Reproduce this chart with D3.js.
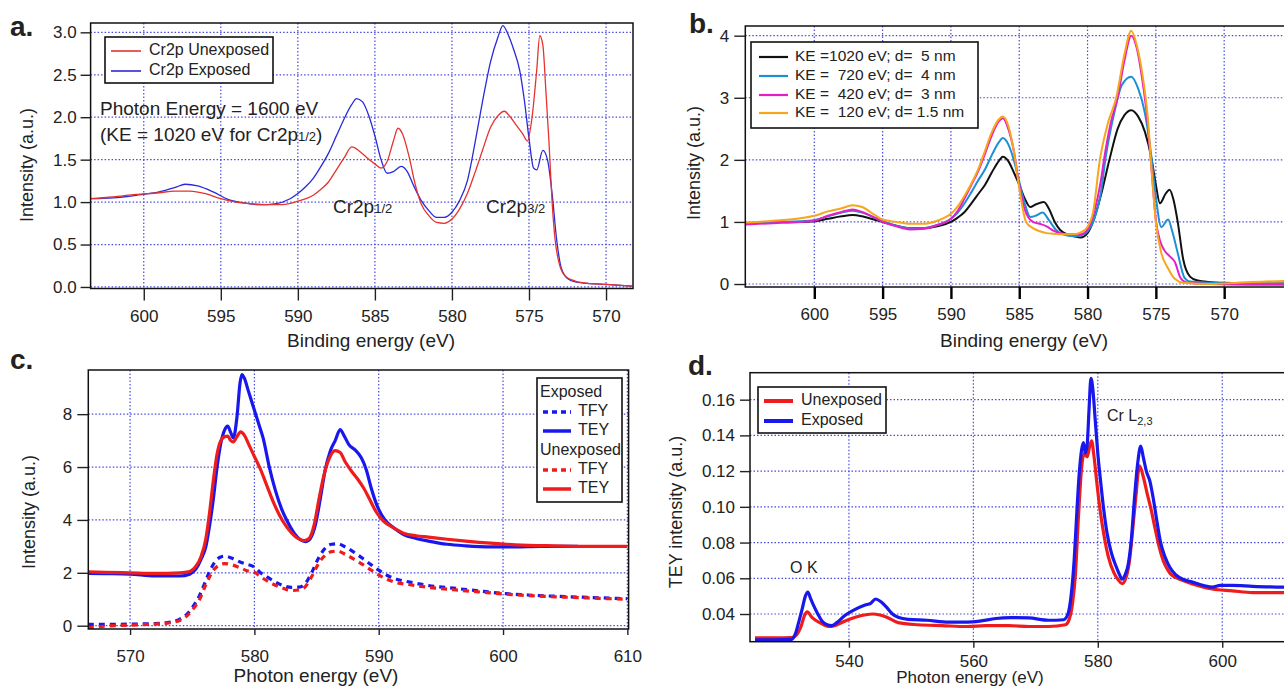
<!DOCTYPE html>
<html>
<head>
<meta charset="utf-8">
<script src="https://cdn.jsdelivr.net/npm/d3@7"></script>
<style>
  body { margin: 0; background: #fff; }
  svg text { font-family: "Liberation Sans", Arial, sans-serif; fill: #222; }
</style>
</head>
<body>
<svg id="fig" width="1284" height="691"></svg>
<script>
// ---- panel a: XPS Cr2p, binding energy (eV) vs intensity ----
const aTicksX = [600, 595, 590, 585, 580, 575, 570];
const aTicksY = [0, 0.5, 1, 1.5, 2, 2.5, 3];
const aExposed = [[603.5,1.04],[602,1.05],[600.5,1.08],[599,1.12],[598,1.17],[597.3,1.21],[596.5,1.19],[595.5,1.12],[594.5,1.03],[593.5,0.99],[592.5,0.97],[591.5,0.98],[590.5,1.04],[590,1.10],[589.5,1.18],[589,1.28],[588.5,1.42],[588,1.58],[587.5,1.78],[587,1.98],[586.5,2.15],[586.2,2.22],[585.8,2.18],[585.4,2.02],[585,1.78],[584.6,1.50],[584.2,1.34],[583.8,1.36],[583.3,1.42],[582.9,1.36],[582.5,1.20],[582,1.02],[581.5,0.90],[581,0.82],[580.5,0.82],[580,0.88],[579.5,1.02],[579,1.25],[578.5,1.70],[578,2.20],[577.5,2.65],[577,2.95],[576.7,3.08],[576.3,2.95],[576,2.80],[575.6,2.55],[575.3,2.20],[575,1.75],[574.7,1.40],[574.5,1.38],[574.1,1.61],[573.8,1.50],[573.5,1.10],[573.2,0.55],[572.9,0.22],[572.5,0.10],[572,0.06],[571,0.04],[570,0.03],[568.3,0.01]];
const aUnexposed = [[603.5,1.04],[602,1.06],[600.5,1.09],[599,1.11],[598,1.13],[597,1.13],[596,1.10],[595,1.04],[594,1.00],[593,0.98],[592,0.97],[591,0.97],[590,1.01],[589,1.08],[588.5,1.15],[588,1.24],[587.5,1.38],[587,1.52],[586.5,1.65],[586,1.60],[585.5,1.52],[585,1.45],[584.6,1.40],[584.2,1.48],[583.8,1.72],[583.5,1.87],[583.2,1.80],[582.8,1.55],[582.4,1.22],[582,0.98],[581.5,0.84],[581,0.76],[580.5,0.75],[580,0.80],[579.5,0.92],[579,1.10],[578.5,1.35],[578,1.62],[577.5,1.88],[577,2.02],[576.6,2.07],[576.2,2.00],[575.8,1.90],[575.4,1.80],[575.1,1.72],[574.8,2.00],[574.5,2.55],[574.3,2.96],[574.1,2.85],[573.9,2.30],[573.7,1.70],[573.5,1.00],[573.3,0.55],[573,0.25],[572.6,0.12],[572,0.07],[571,0.04],[570,0.03],[568.3,0.01]];

// ---- panel b: depth profile, four kinetic energies ----
const bTicksX = [600, 595, 590, 585, 580, 575, 570];
const bTicksY = [0, 1, 2, 3, 4];
const bKE1020 = [[605,0.98],[603,1.0],[601,1.0],[600,1.01],[599,1.05],[598,1.09],[597.2,1.11],[596.5,1.09],[595.5,1.03],[595,1.0],[594,0.94],[593,0.9],[592,0.9],[591,0.93],[590,1.0],[589.5,1.07],[589,1.16],[588.5,1.3],[588,1.45],[587.5,1.6],[587,1.8],[586.5,1.98],[586.2,2.05],[585.8,1.98],[585.4,1.8],[585,1.6],[584.6,1.38],[584.2,1.24],[583.8,1.28],[583.2,1.32],[582.8,1.2],[582.4,1.0],[582,0.87],[581.5,0.8],[581,0.77],[580.5,0.75],[580,0.82],[579.6,1.0],[579,1.45],[578.4,2.0],[577.8,2.5],[577.3,2.72],[576.8,2.8],[576.3,2.7],[575.8,2.45],[575.3,2.0],[575,1.6],[574.7,1.3],[574.3,1.45],[574,1.52],[573.7,1.35],[573.4,1.0],[573,0.4],[572.5,0.12],[572,0.06],[571,0.03],[570,0.02],[568,0.01],[564.5,0.01]];
const bKE720 = [[605,0.98],[603,1.0],[601,1.01],[600,1.03],[599,1.09],[598,1.15],[597.2,1.18],[596.5,1.15],[595.5,1.06],[595,1.01],[594,0.94],[593,0.9],[592,0.9],[591,0.95],[590,1.05],[589.5,1.15],[589,1.3],[588.5,1.48],[588,1.67],[587.5,1.85],[587,2.08],[586.5,2.28],[586.2,2.35],[585.8,2.25],[585.4,2.0],[585,1.65],[584.6,1.3],[584.2,1.08],[583.8,1.1],[583.3,1.15],[582.8,1.02],[582.3,0.87],[581.8,0.8],[581,0.77],[580.5,0.78],[580,0.85],[579.6,1.0],[579,1.5],[578.7,2.0],[578,2.8],[577.5,3.2],[576.8,3.34],[576.3,3.15],[575.8,2.75],[575.3,2.0],[575,1.4],[574.6,0.92],[574.1,1.04],[573.8,0.85],[573.4,0.5],[572.9,0.1],[572.5,0.04],[571,0.02],[568,0.0],[564.5,0.0]];
const bKE420 = [[605,0.96],[603,0.98],[601,1.0],[600,1.02],[599,1.1],[598,1.16],[597.2,1.2],[596.5,1.16],[595.5,1.06],[595,1.0],[594,0.93],[593,0.88],[592,0.89],[591,0.95],[590,1.05],[589.5,1.18],[589,1.38],[588.5,1.6],[588,1.82],[587.5,2.1],[587,2.4],[586.5,2.62],[586.2,2.67],[585.8,2.5],[585.4,2.15],[585,1.6],[584.6,1.2],[584,1.0],[583.5,0.97],[583,0.93],[582.5,0.86],[582,0.82],[581,0.8],[580.5,0.8],[580,0.88],[579.6,1.1],[579,1.7],[578.8,2.0],[578.3,2.6],[577.8,3.0],[577.3,3.6],[576.8,4.0],[576.4,3.8],[576,3.3],[575.6,2.6],[575.3,1.8],[575,1.03],[574.7,0.7],[574.4,0.55],[574,0.45],[573.6,0.35],[573.2,0.1],[572.8,0.03],[571,0.0],[568,-0.01],[564.5,-0.01]];
const bKE120 = [[605,0.99],[603,1.02],[601,1.06],[600,1.1],[599,1.17],[598,1.22],[597.2,1.27],[596.5,1.24],[595.5,1.1],[595,1.04],[594,1.0],[593,0.97],[592,0.97],[591,1.02],[590,1.13],[589.5,1.25],[589,1.42],[588.5,1.62],[588,1.85],[587.5,2.15],[587,2.45],[586.5,2.65],[586.2,2.7],[585.8,2.55],[585.4,2.15],[585,1.55],[584.5,1.0],[584,0.9],[583.5,0.85],[583,0.82],[582.5,0.81],[582,0.8],[581,0.8],[580.5,0.83],[580,0.92],[579.6,1.15],[579.1,2.0],[578.5,2.6],[577.9,3.0],[577.3,3.7],[576.8,4.08],[576.4,3.85],[576,3.4],[575.6,2.7],[575.3,1.8],[575,1.0],[574.6,0.5],[574.1,0.25],[573.6,0.08],[573,0.02],[571,0.0],[569,0.02],[567,0.04],[564.5,0.05]];

// ---- panel c: XAS Cr L edge, TEY and TFY ----
const cTicksX = [570, 580, 590, 600, 610];
const cTicksY = [0, 2, 4, 6, 8];
const cExposedTEY = [[566.6,1.98],[568,1.97],[570,1.95],[572,1.88],[574,1.88],[574.8,1.95],[575.3,2.15],[575.7,2.5],[576.1,3.0],[576.4,3.8],[576.7,4.8],[577.0,6.0],[577.3,6.9],[577.6,7.4],[577.85,7.55],[578.1,7.3],[578.3,7.1],[578.6,7.9],[578.85,9.2],[579.0,9.5],[579.2,9.35],[579.5,8.9],[579.9,8.3],[580.3,7.7],[580.7,7.1],[581.2,6.0],[581.7,5.1],[582.2,4.4],[582.7,3.9],[583.2,3.5],[583.7,3.25],[584.1,3.18],[584.5,3.3],[584.9,3.8],[585.3,4.8],[585.7,5.9],[586.1,6.6],[586.5,7.0],[586.9,7.42],[587.2,7.2],[587.6,6.85],[588.1,6.65],[588.6,6.35],[589.0,5.9],[589.4,5.2],[589.9,4.5],[590.5,4.0],[591.2,3.7],[592,3.45],[593,3.3],[594,3.2],[595.5,3.08],[597,3.02],[599,2.98],[601,2.98],[603,3.0],[606,3.0]];
const cUnexposedTEY = [[566.6,2.04],[568,2.02],[570,2.0],[572,1.98],[574,2.0],[574.8,2.05],[575.3,2.25],[575.7,2.6],[576.1,3.3],[576.4,4.3],[576.7,5.5],[577.0,6.5],[577.3,7.0],[577.6,7.15],[577.85,7.17],[578.1,7.0],[578.3,6.95],[578.6,7.15],[578.9,7.33],[579.2,7.2],[579.6,6.8],[580.0,6.4],[580.5,5.9],[581.0,5.3],[581.5,4.7],[582.0,4.2],[582.5,3.8],[583.0,3.5],[583.5,3.3],[584.0,3.22],[584.4,3.3],[584.8,3.8],[585.2,4.8],[585.6,5.7],[586.0,6.3],[586.5,6.62],[586.9,6.55],[587.3,6.2],[587.8,5.85],[588.3,5.55],[588.8,5.2],[589.3,4.75],[589.8,4.3],[590.4,3.95],[591.2,3.7],[592,3.5],[593,3.4],[594,3.35],[595.5,3.27],[597,3.2],[599,3.12],[601,3.06],[604,3.02],[607,3.0],[610,3.0]];
const cExposedTFY = [[566.6,0.05],[568,0.05],[570,0.06],[572,0.08],[573,0.12],[574,0.25],[574.6,0.45],[575.1,0.75],[575.6,1.15],[576.0,1.6],[576.4,2.05],[576.8,2.4],[577.2,2.58],[577.6,2.63],[578.2,2.55],[578.8,2.42],[579.4,2.32],[580.0,2.22],[580.5,2.0],[581.0,1.85],[581.6,1.68],[582.3,1.52],[583.0,1.45],[583.6,1.46],[584.1,1.6],[584.6,2.0],[585.1,2.5],[585.6,2.88],[586.2,3.08],[586.7,3.1],[587.3,2.98],[588.0,2.78],[588.7,2.55],[589.4,2.3],[590.0,2.1],[590.7,1.9],[591.5,1.75],[592.5,1.65],[594,1.52],[596,1.42],[598,1.32],[600,1.22],[602,1.16],[605,1.1],[608,1.05],[610,1.02]];
const cUnexposedTFY = [[566.6,-0.08],[568,-0.02],[570,0.02],[572,0.06],[573,0.1],[574,0.2],[574.6,0.38],[575.1,0.65],[575.6,1.0],[576.0,1.45],[576.4,1.85],[576.8,2.15],[577.2,2.3],[577.6,2.35],[578.2,2.3],[578.8,2.2],[579.4,2.08],[580.0,2.02],[580.5,1.85],[581.0,1.7],[581.6,1.55],[582.3,1.42],[583.0,1.33],[583.6,1.35],[584.1,1.48],[584.6,1.85],[585.1,2.3],[585.6,2.62],[586.2,2.8],[586.7,2.82],[587.3,2.7],[588.0,2.52],[588.7,2.32],[589.4,2.1],[590.0,1.92],[590.7,1.75],[591.5,1.62],[592.5,1.55],[594,1.45],[596,1.36],[598,1.28],[600,1.2],[602,1.14],[605,1.08],[608,1.03],[610,1.0]];

// ---- panel d: TEY, O K and Cr L2,3 ----
const dTicksX = [540, 560, 580, 600];
const dTicksY = [0.04, 0.06, 0.08, 0.10, 0.12, 0.14, 0.16];
const dUnexposed = [[524.9,0.0266],[528,0.0266],[530.8,0.0268],[531.5,0.028],[532.3,0.033],[532.9,0.0395],[533.3,0.0412],[534.1,0.038],[535.4,0.035],[536.7,0.033],[537.7,0.0335],[539.3,0.036],[541.3,0.0385],[543.9,0.040],[545.9,0.0385],[547.9,0.0352],[551.1,0.034],[555,0.0335],[559,0.033],[562,0.0335],[565.6,0.0335],[569,0.033],[572.1,0.033],[574.8,0.034],[575.4,0.037],[575.9,0.045],[576.4,0.062],[576.9,0.095],[577.4,0.122],[577.8,0.13],[578.3,0.128],[578.7,0.134],[579.0,0.137],[579.4,0.128],[579.8,0.115],[580.3,0.10],[581.0,0.084],[581.7,0.072],[582.6,0.063],[583.3,0.059],[583.9,0.057],[584.5,0.06],[585.1,0.07],[585.6,0.087],[586.1,0.105],[586.7,0.123],[587.3,0.117],[587.9,0.108],[588.6,0.098],[589.2,0.088],[589.9,0.077],[590.5,0.07],[591.2,0.065],[591.8,0.062],[593.5,0.059],[595.1,0.057],[598.4,0.054],[601.6,0.053],[604.9,0.052],[612,0.052]];
const dExposed = [[524.9,0.0256],[528,0.0256],[530.8,0.0258],[531.4,0.029],[531.9,0.035],[532.5,0.043],[533.0,0.050],[533.4,0.0523],[533.8,0.049],[534.3,0.045],[535.0,0.040],[535.7,0.036],[536.5,0.034],[537.2,0.0335],[538.0,0.035],[539.3,0.039],[540.7,0.042],[542.6,0.045],[543.5,0.046],[544.3,0.0484],[545.1,0.047],[546.0,0.044],[547.0,0.040],[548.0,0.038],[549.5,0.037],[552.5,0.0365],[556,0.0355],[559,0.0355],[561,0.036],[563.6,0.0375],[566,0.038],[568.9,0.0378],[572.1,0.0365],[574.5,0.0368],[575.2,0.04],[575.7,0.05],[576.2,0.07],[576.6,0.095],[577.0,0.118],[577.4,0.132],[577.7,0.136],[578.0,0.13],[578.3,0.135],[578.6,0.155],[578.9,0.172],[579.2,0.166],[579.6,0.148],[580.0,0.13],[580.4,0.116],[580.9,0.1],[581.5,0.085],[582.2,0.074],[582.9,0.067],[583.5,0.062],[583.9,0.0595],[584.4,0.062],[584.9,0.068],[585.4,0.082],[585.9,0.105],[586.4,0.124],[586.9,0.134],[587.3,0.128],[587.8,0.12],[588.4,0.114],[588.9,0.105],[589.5,0.092],[590.1,0.08],[590.8,0.072],[591.6,0.066],[592.5,0.062],[594,0.059],[595.1,0.058],[597,0.056],[598.4,0.055],[599.7,0.056],[601.6,0.056],[604.9,0.0555],[612,0.055]];

const RED = "#ee1c1c", BLUE = "#1818ee";
const gridColor = "#4a4ae0";
const svg = d3.select("#fig");

function drawPanel(p) {
    const x = d3.scaleLinear().domain(p.xDomain).range([p.left, p.right]);
    const y = d3.scaleLinear().domain(p.yDomain).range([p.bottom, p.top]);
    const g = svg.append("g");

    g.append("clipPath").attr("id", "clip-" + p.id)
        .append("rect")
        .attr("x", p.left).attr("y", p.top)
        .attr("width", p.right - p.left).attr("height", p.bottom - p.top);

    // dotted grid at every major tick
    g.selectAll(".vgrid").data(p.xTicks).enter().append("line")
        .attr("x1", d => x(d)).attr("x2", d => x(d))
        .attr("y1", p.top).attr("y2", p.bottom)
        .attr("stroke", gridColor).attr("stroke-width", 1.2)
        .attr("stroke-dasharray", "1.5,2");
    g.selectAll(".hgrid").data(p.yTicks).enter().append("line")
        .attr("x1", p.left).attr("x2", p.right)
        .attr("y1", d => y(d)).attr("y2", d => y(d))
        .attr("stroke", gridColor).attr("stroke-width", 1.2)
        .attr("stroke-dasharray", "1.5,2");

    const line = d3.line()
        .x(d => x(d[0]))
        .y(d => y(d[1]))
        .curve(d3.curveMonotoneX);

    g.append("g").attr("clip-path", `url(#clip-${p.id})`)
        .selectAll("path")
        .data(p.series)
        .enter()
        .append("path")
        .attr("d", s => line(s.values))
        .attr("fill", "none")
        .attr("stroke", s => s.color)
        .attr("stroke-width", s => s.width)
        .attr("stroke-dasharray", s => s.dash || null)
        .attr("stroke-linejoin", "round");

    g.append("rect")
        .attr("x", p.left).attr("y", p.top)
        .attr("width", p.right - p.left).attr("height", p.bottom - p.top)
        .attr("fill", "none").attr("stroke", "#111").attr("stroke-width", 1.5);

    const xAxis = g.append("g")
        .attr("transform", `translate(0,${p.bottom})`)
        .call(d3.axisBottom(x).tickValues(p.xTicks).tickSize(p.xTick).tickPadding(p.xPad).tickFormat(d3.format("d")));
    const yAxis = g.append("g")
        .attr("transform", `translate(${p.left},0)`)
        .call(d3.axisLeft(y).tickValues(p.yTicks).tickSize(p.yTick).tickPadding(p.yPad).tickFormat(d3.format(p.yFormat)));

    [xAxis, yAxis].forEach(a => {
        a.select(".domain").remove();
        a.attr("font-family", null).attr("font-size", null);
        a.selectAll("text").attr("font-size", 17).attr("fill", "#222");
        a.selectAll("line").attr("stroke", "#222").attr("stroke-width", 1.4);
    });
    if (p.thickXTicks) xAxis.selectAll("line").attr("stroke", "#000").attr("stroke-width", 2.4);

    // titles and panel letter
    g.append("text")
        .attr("transform", `translate(${p.yTitle[0]},${p.yTitle[1]}) rotate(-90)`)
        .attr("text-anchor", "middle").attr("dominant-baseline", "middle")
        .attr("font-size", 18).text(p.yLabel);
    g.append("text")
        .attr("x", p.xTitle[0]).attr("y", p.xTitle[1])
        .attr("text-anchor", "middle").attr("dominant-baseline", "middle")
        .attr("font-size", p.xTitleSize || 19).text(p.xLabel);
    g.append("text")
        .attr("x", p.letter[0]).attr("y", p.letter[1])
        .attr("font-size", 28).attr("font-weight", "bold").attr("fill", "#111")
        .text(p.id + ".");

    return g;
}

function drawLegend(g, box, rows, opts) {
    g.append("rect")
        .attr("x", box[0]).attr("y", box[1])
        .attr("width", box[2] - box[0]).attr("height", box[3] - box[1])
        .attr("fill", "#fff").attr("stroke", "#111").attr("stroke-width", 1.6);
    rows.forEach(r => {
        if (r.color) {
            g.append("line")
                .attr("x1", opts.lx1).attr("x2", opts.lx2)
                .attr("y1", r.y).attr("y2", r.y)
                .attr("stroke", r.color).attr("stroke-width", opts.lw)
                .attr("stroke-dasharray", r.dash || null);
        }
        g.append("text")
            .attr("x", r.color ? opts.tx : opts.hx).attr("y", r.y)
            .attr("dominant-baseline", "middle")
            .attr("font-size", opts.fs)
            .style("white-space", "pre")
            .text(r.label);
    });
}

// ---------------- panel a ----------------
const ga = drawPanel({
    id: "a", left: 90.6, right: 633, top: 23, bottom: 288.5,
    xDomain: [603.45, 568.25], yDomain: [-0.018, 3.11],
    xTicks: aTicksX, yTicks: aTicksY, yFormat: ".1f",
    xTick: 12, xPad: 9, yTick: 10, yPad: 4,
    series: [
        { values: aExposed, color: "#2a2ad8", width: 1.3 },
        { values: aUnexposed, color: "#e5332f", width: 1.3 }
    ],
    yLabel: "Intensity (a.u.)", yTitle: [28, 165],
    xLabel: "Binding energy (eV)", xTitle: [371, 342],
    letter: [10, 36]
});
drawLegend(ga, [105, 37, 273, 83], [
    { label: "Cr2p Unexposed", color: "#e5332f", y: 51 },
    { label: "Cr2p Exposed", color: "#2a2ad8", y: 71 }
], { lx1: 111, lx2: 141, tx: 149, lw: 1.6, fs: 16 });

const aNote = ga.append("text").attr("x", 100).attr("y", 115).attr("font-size", 19);
aNote.text("Photon Energy = 1600 eV");
const aNote2 = ga.append("text").attr("x", 100).attr("y", 141).attr("font-size", 19);
aNote2.append("tspan").text("(KE = 1020 eV for Cr2p");
aNote2.append("tspan").attr("font-size", 13).text("1/2");
aNote2.append("tspan").text(")");
[["1/2", 333], ["3/2", 486]].forEach(([sub, xx]) => {
    const t = ga.append("text").attr("x", xx).attr("y", 213).attr("font-size", 19);
    t.append("tspan").text("Cr2p");
    t.append("tspan").attr("font-size", 13).text(sub);
});

// ---------------- panel b ----------------
const bColors = ["#111111", "#1e8fd2", "#e61ec8", "#f7a61c"];
const gb = drawPanel({
    id: "b", left: 745.3, right: 1300, top: 26, bottom: 287,
    xDomain: [605.05, 564.45], yDomain: [-0.048, 4.156],
    xTicks: bTicksX, yTicks: bTicksY, yFormat: "d",
    xTick: 12, xPad: 9, yTick: 11, yPad: 5, thickXTicks: true,
    series: [
        { values: bKE1020, color: bColors[0], width: 2 },
        { values: bKE720, color: bColors[1], width: 2 },
        { values: bKE420, color: bColors[2], width: 2 },
        { values: bKE120, color: bColors[3], width: 2 }
    ],
    yLabel: "Intensity (a.u.)", yTitle: [695, 163],
    xLabel: "Binding energy (eV)", xTitle: [1024, 342],
    letter: [689, 33]
});
drawLegend(gb, [751, 42, 978, 128], [
    { label: "KE =1020 eV; d=  5 nm", color: bColors[0], y: 57 },
    { label: "KE =  720 eV; d=  4 nm", color: bColors[1], y: 76 },
    { label: "KE =  420 eV; d=  3 nm", color: bColors[2], y: 95 },
    { label: "KE =  120 eV; d= 1.5 nm", color: bColors[3], y: 113 }
], { lx1: 759, lx2: 788, tx: 795, lw: 2.2, fs: 15.5 });

// ---------------- panel c ----------------
const gc = drawPanel({
    id: "c", left: 88.3, right: 628.6, top: 370, bottom: 629,
    xDomain: [566.64, 610.1], yDomain: [-0.125, 9.67],
    xTicks: cTicksX, yTicks: cTicksY, yFormat: "d",
    xTick: 6, xPad: 15, yTick: 11, yPad: 5,
    series: [
        { values: cExposedTFY, color: BLUE, width: 3.2, dash: "6,5" },
        { values: cUnexposedTFY, color: RED, width: 3.2, dash: "6,5" },
        { values: cExposedTEY, color: BLUE, width: 3.2 },
        { values: cUnexposedTEY, color: RED, width: 3.2 }
    ],
    yLabel: "Intensity (a.u.)", yTitle: [30, 512],
    xLabel: "Photon energy (eV)", xTitle: [316, 677],
    letter: [10, 369]
});
drawLegend(gc, [537, 378, 622, 502], [
    { label: "Exposed", y: 393 },
    { label: "TFY", color: BLUE, dash: "5,4", y: 412 },
    { label: "TEY", color: BLUE, y: 431 },
    { label: "Unexposed", y: 451 },
    { label: "TFY", color: RED, dash: "5,4", y: 470 },
    { label: "TEY", color: RED, y: 489 }
], { lx1: 543, lx2: 571, tx: 578, hx: 540, lw: 3.5, fs: 16 });

// ---------------- panel d ----------------
const gd = drawPanel({
    id: "d", left: 750, right: 1300, top: 372.7, bottom: 641.7,
    xDomain: [524.1, 612.5], yDomain: [0.0245, 0.1751],
    xTicks: dTicksX, yTicks: dTicksY, yFormat: ".2f",
    xTick: 6, xPad: 7, yTick: 10, yPad: 5,
    series: [
        { values: dUnexposed, color: RED, width: 3.2 },
        { values: dExposed, color: BLUE, width: 3.2 }
    ],
    yLabel: "TEY intensity (a.u.)", yTitle: [677, 512],
    xLabel: "Photon energy (eV)", xTitle: [970, 679], xTitleSize: 17,
    letter: [688, 375]
});
drawLegend(gd, [758, 387, 886, 433], [
    { label: "Unexposed", color: RED, y: 401 },
    { label: "Exposed", color: BLUE, y: 421 }
], { lx1: 764, lx2: 793, tx: 801, lw: 4, fs: 16 });

gd.append("text").attr("x", 790).attr("y", 573).attr("font-size", 16).text("O K");
const crL = gd.append("text").attr("x", 1107).attr("y", 421).attr("font-size", 16);
crL.append("tspan").text("Cr L");
crL.append("tspan").attr("font-size", 11).attr("dy", 4).text("2,3");
</script>
</body>
</html>
